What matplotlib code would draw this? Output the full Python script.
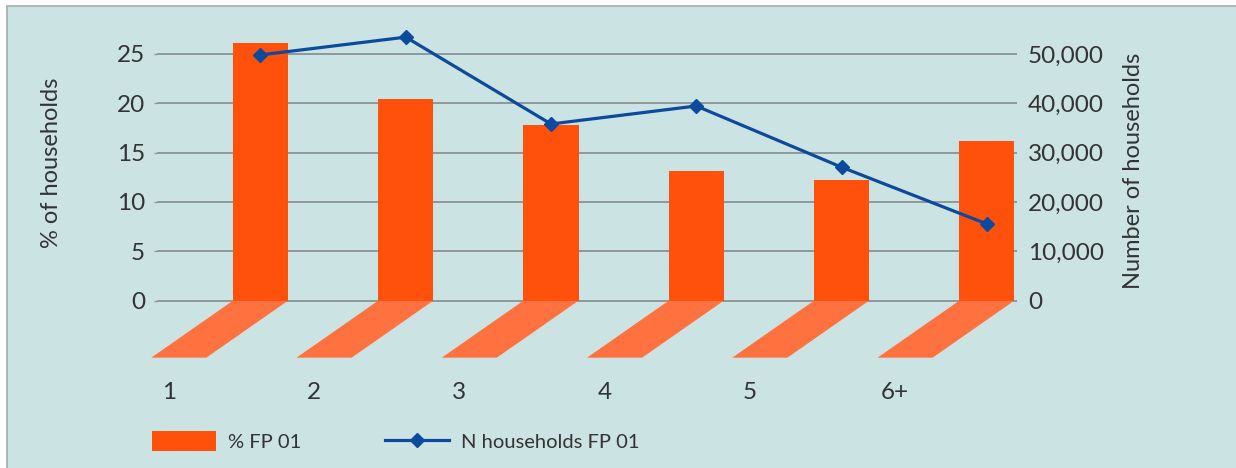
import matplotlib
matplotlib.use("Agg")
import matplotlib.pyplot as plt
from matplotlib.patches import Polygon, Rectangle, Patch
from matplotlib.lines import Line2D
from matplotlib.ticker import FuncFormatter

plt.rcParams['font.family'] = ['Lato', 'DejaVu Sans']

categories = ["1", "2", "3", "4", "5", "6+"]
pct_fp01 = [26.1, 20.4, 17.8, 13.15, 12.25, 16.2]
n_households_fp01 = [49800, 53400, 35800, 39450, 27050, 15550]
left_ticks = [0, 5, 10, 15, 20, 25]
right_ticks = [0, 10000, 20000, 30000, 40000, 50000]

BG = "#cce3e3"
BAR = "#ff500c"
FLOOR = "#ff713e"
LINE = "#0b4a9e"
GRID = "#8f9898"
TXT = "#333333"

W, H = 1236, 468
fig = plt.figure(figsize=(W / 100, H / 100), dpi=100)
fig.patch.set_facecolor("white")
fig.patches.append(Rectangle((6.85 / W, -0.1), 1.2, (H - 5.85) / H + 0.1,
                             transform=fig.transFigure, facecolor=BG,
                             edgecolor="#a3abab", linewidth=1.2, zorder=-5))

ax = fig.add_axes([157 / W, (H - 359.9) / H, (1017 - 157) / W, (359.9 - 24.3) / H])
ax.set_facecolor("none")
ax.set_xlim(-0.7125, 5.208)
ax.set_ylim(-6, 28)
for s in ax.spines.values():
    s.set_visible(False)

x = list(range(len(categories)))
bw = 0.379
dx, dy = -0.5625, -5.775

ax.set_yticks(left_ticks)
ax.yaxis.grid(True, color=GRID, linewidth=1.4)
ax.set_axisbelow(True)
ax.tick_params(axis='y', length=2.5, width=1, color=GRID, labelsize=17.5,
               labelcolor=TXT, pad=6)
ax.set_xticks([])

for xi in x:
    ax.add_patch(Polygon([(xi - bw / 2, 0), (xi + bw / 2, 0),
                          (xi + bw / 2 + dx, dy), (xi - bw / 2 + dx, dy)],
                         closed=True, facecolor=FLOOR, edgecolor="none",
                         zorder=1.5, clip_on=False))
ax.bar(x, pct_fp01, width=bw, color=BAR, zorder=2)

for xi, lab in zip(x, categories):
    ax.text(xi - 0.63, -9.35, lab, ha='center', va='center', fontsize=17.5,
            color=TXT, clip_on=False)

ax2 = ax.twinx()
ax2.set_ylim(-12000, 56000)
for s in ax2.spines.values():
    s.set_visible(False)
ax2.set_yticks(right_ticks)
ax2.yaxis.set_major_formatter(FuncFormatter(lambda v, p: f"{int(v):,}"))
ax2.tick_params(axis='y', length=0, labelsize=17.5, labelcolor=TXT, pad=8)
ax2.plot(x, n_households_fp01, color=LINE, linewidth=2.3, marker='D',
         markersize=7.6, zorder=3)

fig.text(52 / W, (H - 162.5) / H, "% of households", rotation=90,
         ha='center', va='center', fontsize=17, color=TXT)
fig.text(1133 / W, (H - 171) / H, "Number of households", rotation=90,
         ha='center', va='center', fontsize=17, color=TXT)

handles = [Patch(facecolor=BAR, edgecolor='none'),
           Line2D([], [], color=LINE, linewidth=2.3, marker='D', markersize=7.6)]
fig.legend(handles, ["% FP 01", "N households FP 01"], loc='center left',
           bbox_to_anchor=(152 / W, (H - 441) / H), ncol=2, frameon=False,
           fontsize=14.5, borderpad=0, borderaxespad=0, handlelength=3.18,
           handleheight=1.1, handletextpad=0.6, columnspacing=4.13,
           labelcolor=TXT)

fig.savefig("out.png", dpi=100, facecolor=fig.get_facecolor())
